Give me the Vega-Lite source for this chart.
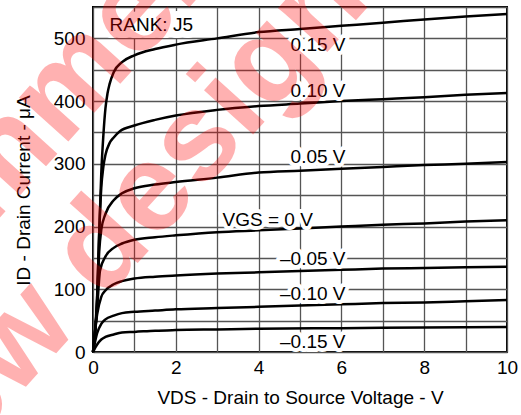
{
  "$schema": "https://vega.github.io/schema/vega-lite/v6.json",
  "width": 414,
  "height": 345,
  "autosize": {"type": "none"},
  "padding": {"left": 93, "top": 7, "right": 14, "bottom": 63},
  "config": {
    "font": "Liberation Sans",
    "view": {"stroke": "black", "strokeWidth": 2},
    "axis": {
      "grid": true,
      "gridColor": "#555555",
      "gridWidth": 1.3,
      "domain": false,
      "ticks": false,
      "labelFontSize": 19,
      "labelColor": "black",
      "labelOverlap": false,
      "labelFlush": false,
      "titleFontSize": 19,
      "titleFontWeight": "normal",
      "titleColor": "black"
    },
    "axisX": {"values": [0, 1, 2, 3, 4, 5, 6, 7, 8, 9, 10], "labelExpr": "datum.value % 2 === 0 ? datum.label : ''", "labelPadding": 6, "titlePadding": 11},
    "axisY": {"values": [0, 50, 100, 150, 200, 250, 300, 350, 400, 450, 500, 550], "labelExpr": "datum.value % 100 === 0 && datum.value < 550 ? datum.label : ''", "labelPadding": 8, "titlePadding": 20, "titleY": 183}
  },
  "datasets": {
    "curves": [
      {"vgs": "0.15", "vds": 0, "id": 0}, {"vgs": "0.15", "vds": 0.1, "id": 90}, {"vgs": "0.15", "vds": 0.15, "id": 190}, {"vgs": "0.15", "vds": 0.2, "id": 285}, {"vgs": "0.15", "vds": 0.25, "id": 345}, {"vgs": "0.15", "vds": 0.3, "id": 388}, {"vgs": "0.15", "vds": 0.35, "id": 412}, {"vgs": "0.15", "vds": 0.4, "id": 427}, {"vgs": "0.15", "vds": 0.5, "id": 446}, {"vgs": "0.15", "vds": 0.7, "id": 462}, {"vgs": "0.15", "vds": 1, "id": 473}, {"vgs": "0.15", "vds": 1.5, "id": 483}, {"vgs": "0.15", "vds": 2, "id": 490}, {"vgs": "0.15", "vds": 3, "id": 500}, {"vgs": "0.15", "vds": 4, "id": 510}, {"vgs": "0.15", "vds": 5, "id": 515}, {"vgs": "0.15", "vds": 6, "id": 520}, {"vgs": "0.15", "vds": 7, "id": 525}, {"vgs": "0.15", "vds": 8, "id": 530}, {"vgs": "0.15", "vds": 9, "id": 535}, {"vgs": "0.15", "vds": 10, "id": 539},
      {"vgs": "0.10", "vds": 0, "id": 0}, {"vgs": "0.10", "vds": 0.1, "id": 85}, {"vgs": "0.10", "vds": 0.15, "id": 190}, {"vgs": "0.10", "vds": 0.2, "id": 262}, {"vgs": "0.10", "vds": 0.25, "id": 295}, {"vgs": "0.10", "vds": 0.3, "id": 314}, {"vgs": "0.10", "vds": 0.4, "id": 333}, {"vgs": "0.10", "vds": 0.5, "id": 342}, {"vgs": "0.10", "vds": 0.65, "id": 352}, {"vgs": "0.10", "vds": 1, "id": 361}, {"vgs": "0.10", "vds": 1.5, "id": 370}, {"vgs": "0.10", "vds": 2, "id": 377}, {"vgs": "0.10", "vds": 3, "id": 386}, {"vgs": "0.10", "vds": 4, "id": 392}, {"vgs": "0.10", "vds": 5, "id": 396}, {"vgs": "0.10", "vds": 6, "id": 400}, {"vgs": "0.10", "vds": 7, "id": 403}, {"vgs": "0.10", "vds": 8, "id": 406}, {"vgs": "0.10", "vds": 9, "id": 410}, {"vgs": "0.10", "vds": 10, "id": 413},
      {"vgs": "0.05", "vds": 0, "id": 0}, {"vgs": "0.05", "vds": 0.1, "id": 80}, {"vgs": "0.05", "vds": 0.15, "id": 160}, {"vgs": "0.05", "vds": 0.2, "id": 195}, {"vgs": "0.05", "vds": 0.3, "id": 220}, {"vgs": "0.05", "vds": 0.5, "id": 242}, {"vgs": "0.05", "vds": 0.7, "id": 253}, {"vgs": "0.05", "vds": 1, "id": 261}, {"vgs": "0.05", "vds": 1.5, "id": 267}, {"vgs": "0.05", "vds": 2, "id": 271}, {"vgs": "0.05", "vds": 3, "id": 278}, {"vgs": "0.05", "vds": 4, "id": 286}, {"vgs": "0.05", "vds": 5, "id": 289}, {"vgs": "0.05", "vds": 6, "id": 292}, {"vgs": "0.05", "vds": 7, "id": 295}, {"vgs": "0.05", "vds": 8, "id": 298}, {"vgs": "0.05", "vds": 9, "id": 300}, {"vgs": "0.05", "vds": 10, "id": 303},
      {"vgs": "0", "vds": 0, "id": 0}, {"vgs": "0", "vds": 0.1, "id": 70}, {"vgs": "0", "vds": 0.17, "id": 130}, {"vgs": "0", "vds": 0.3, "id": 152}, {"vgs": "0", "vds": 0.5, "id": 166}, {"vgs": "0", "vds": 0.7, "id": 173}, {"vgs": "0", "vds": 1, "id": 179}, {"vgs": "0", "vds": 1.5, "id": 183}, {"vgs": "0", "vds": 2, "id": 186}, {"vgs": "0", "vds": 3, "id": 191}, {"vgs": "0", "vds": 4, "id": 194}, {"vgs": "0", "vds": 5, "id": 197}, {"vgs": "0", "vds": 6, "id": 200}, {"vgs": "0", "vds": 7, "id": 203}, {"vgs": "0", "vds": 8, "id": 205}, {"vgs": "0", "vds": 9, "id": 208}, {"vgs": "0", "vds": 10, "id": 210},
      {"vgs": "-0.05", "vds": 0, "id": 0}, {"vgs": "-0.05", "vds": 0.1, "id": 60}, {"vgs": "-0.05", "vds": 0.2, "id": 88}, {"vgs": "-0.05", "vds": 0.3, "id": 98}, {"vgs": "-0.05", "vds": 0.5, "id": 108}, {"vgs": "-0.05", "vds": 0.7, "id": 113}, {"vgs": "-0.05", "vds": 1, "id": 117}, {"vgs": "-0.05", "vds": 1.5, "id": 120}, {"vgs": "-0.05", "vds": 2, "id": 122}, {"vgs": "-0.05", "vds": 3, "id": 125}, {"vgs": "-0.05", "vds": 4, "id": 127}, {"vgs": "-0.05", "vds": 5, "id": 129}, {"vgs": "-0.05", "vds": 6, "id": 131}, {"vgs": "-0.05", "vds": 7, "id": 133}, {"vgs": "-0.05", "vds": 8, "id": 134}, {"vgs": "-0.05", "vds": 9, "id": 135}, {"vgs": "-0.05", "vds": 10, "id": 136},
      {"vgs": "-0.10", "vds": 0, "id": 0}, {"vgs": "-0.10", "vds": 0.1, "id": 30}, {"vgs": "-0.10", "vds": 0.2, "id": 45}, {"vgs": "-0.10", "vds": 0.3, "id": 52}, {"vgs": "-0.10", "vds": 0.5, "id": 58}, {"vgs": "-0.10", "vds": 0.7, "id": 62}, {"vgs": "-0.10", "vds": 1, "id": 64}, {"vgs": "-0.10", "vds": 1.5, "id": 66}, {"vgs": "-0.10", "vds": 2, "id": 68}, {"vgs": "-0.10", "vds": 3, "id": 70}, {"vgs": "-0.10", "vds": 4, "id": 72}, {"vgs": "-0.10", "vds": 5, "id": 74}, {"vgs": "-0.10", "vds": 6, "id": 76}, {"vgs": "-0.10", "vds": 7, "id": 78}, {"vgs": "-0.10", "vds": 8, "id": 79}, {"vgs": "-0.10", "vds": 9, "id": 81}, {"vgs": "-0.10", "vds": 10, "id": 83},
      {"vgs": "-0.15", "vds": 0, "id": 0}, {"vgs": "-0.15", "vds": 0.1, "id": 12}, {"vgs": "-0.15", "vds": 0.2, "id": 20}, {"vgs": "-0.15", "vds": 0.3, "id": 24}, {"vgs": "-0.15", "vds": 0.5, "id": 28}, {"vgs": "-0.15", "vds": 0.7, "id": 31}, {"vgs": "-0.15", "vds": 1, "id": 32}, {"vgs": "-0.15", "vds": 1.5, "id": 34}, {"vgs": "-0.15", "vds": 2, "id": 35}, {"vgs": "-0.15", "vds": 3, "id": 36}, {"vgs": "-0.15", "vds": 4, "id": 37}, {"vgs": "-0.15", "vds": 6, "id": 38}, {"vgs": "-0.15", "vds": 8, "id": 39}, {"vgs": "-0.15", "vds": 10, "id": 40}
    ],
    "labels": [
      {"label": "0.15 V", "vds": 6.1, "id": 489},
      {"label": "0.10 V", "vds": 6.1, "id": 416},
      {"label": "0.05 V", "vds": 6.1, "id": 311},
      {"label": "VGS = 0 V", "vds": 5.31, "id": 210},
      {"label": "–0.05 V", "vds": 6.1, "id": 147.5},
      {"label": "–0.10 V", "vds": 6.1, "id": 92.6},
      {"label": "–0.15 V", "vds": 6.1, "id": 16.5}
    ],
    "rank": [{"label": "RANK: J5", "vds": 0.4, "id": 522}],
    "watermark": [
      {"label": "recommended", "vds": -6.8, "id": -119.2},
      {"label": "for new design", "vds": -7.5, "id": -486.6}
    ]
  },
  "layer": [
    {
      "data": {"name": "curves"},
      "mark": {"type": "line", "color": "black", "strokeWidth": 2.5, "interpolate": "monotone"},
      "encoding": {
        "x": {"field": "vds", "type": "quantitative", "scale": {"domain": [0, 10], "nice": false}, "title": "VDS - Drain to Source Voltage - V"},
        "y": {"field": "id", "type": "quantitative", "scale": {"domain": [0, 550], "nice": false}, "title": "ID - Drain Current - μA"},
        "detail": {"field": "vgs", "type": "nominal"}
      }
    },
    {
      "data": {"name": "labels"},
      "mark": {"type": "text", "align": "right", "baseline": "middle", "fontSize": 19, "fill": "white", "stroke": "white", "strokeWidth": 8, "strokeJoin": "round"},
      "encoding": {
        "x": {"field": "vds", "type": "quantitative", "title": "VDS - Drain to Source Voltage - V"},
        "y": {"field": "id", "type": "quantitative", "title": "ID - Drain Current - μA"},
        "text": {"field": "label"}
      }
    },
    {
      "data": {"name": "labels"},
      "mark": {"type": "text", "align": "right", "baseline": "middle", "fontSize": 19, "color": "black"},
      "encoding": {
        "x": {"field": "vds", "type": "quantitative", "title": "VDS - Drain to Source Voltage - V"},
        "y": {"field": "id", "type": "quantitative", "title": "ID - Drain Current - μA"},
        "text": {"field": "label"}
      }
    },
    {
      "data": {"name": "rank"},
      "mark": {"type": "text", "align": "left", "baseline": "middle", "fontSize": 19, "fill": "white", "stroke": "white", "strokeWidth": 14, "strokeJoin": "round"},
      "encoding": {
        "x": {"field": "vds", "type": "quantitative", "title": "VDS - Drain to Source Voltage - V"},
        "y": {"field": "id", "type": "quantitative", "title": "ID - Drain Current - μA"},
        "text": {"field": "label"}
      }
    },
    {
      "data": {"name": "rank"},
      "mark": {"type": "text", "align": "left", "baseline": "middle", "fontSize": 19, "color": "black"},
      "encoding": {
        "x": {"field": "vds", "type": "quantitative", "title": "VDS - Drain to Source Voltage - V"},
        "y": {"field": "id", "type": "quantitative", "title": "ID - Drain Current - μA"},
        "text": {"field": "label"}
      }
    },
    {
      "data": {"name": "watermark"},
      "mark": {"type": "text", "align": "left", "baseline": "alphabetic", "fontSize": 125, "fontWeight": "bold", "angle": 312, "color": "#ff0000", "opacity": 0.3},
      "encoding": {
        "x": {"field": "vds", "type": "quantitative", "title": "VDS - Drain to Source Voltage - V"},
        "y": {"field": "id", "type": "quantitative", "title": "ID - Drain Current - μA"},
        "text": {"field": "label"}
      }
    }
  ]
}
